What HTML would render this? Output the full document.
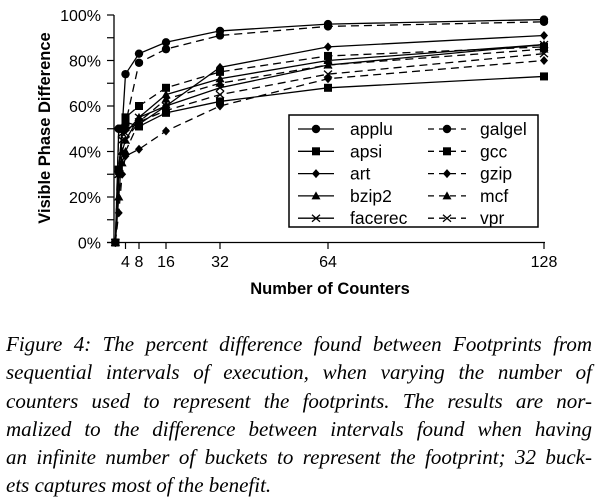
<!DOCTYPE html>
<html><head><meta charset="utf-8"><style>
body{margin:0;background:#fff;width:599px;height:498px;overflow:hidden}
svg{position:absolute;left:0;top:0}
.cap{position:absolute;left:6px;top:330px;width:586px;font-family:"Liberation Serif",serif;font-style:italic;font-size:21px;line-height:28.3px;color:#000}
.cap div{text-align:justify;text-align-last:justify;white-space:nowrap}
.cap div.last{text-align-last:left}
</style></head><body>
<svg id="chart" width="599" height="320" font-family="Liberation Sans, sans-serif"></svg>
<div class="cap">
<div>Figure 4: The percent difference found between Footprints from</div>
<div>sequential intervals of execution, when varying the number of</div>
<div>counters used to represent the footprints. The results are nor-</div>
<div>malized to the difference between intervals found when having</div>
<div>an infinite number of buckets to represent the footprint; 32 buck-</div>
<div class="last">ets captures most of the benefit.</div>
</div>
<script>
const xs=[1,2,3,4,8,16,32,64,128];
const names=["applu","apsi","art","bzip2","facerec","galgel","gcc","gzip","mcf","vpr"];
const applu=[0,50,50,74,83,88,93,96,98];
const apsi=[0,32,50,53,51,57,62,68,73];
const art=[0,30,50,50,52,60,77,86,91];
const bzip2=[0,20,40,45,55,65,72,80,87];
const facerec=[0,30,48,48,55,60,68,78,87];
const galgel=[0,50,50,52,79,85,91,95,97];
const gcc=[0,32,50,55,60,68,75,82,86];
const gzip=[0,13,30,38,41,49,60,72,80];
const mcf=[0,20,35,40,53,63,70,78,85];
const vpr=[0,30,45,45,53,58,65,74,83];
const series=[applu,apsi,art,bzip2,facerec,galgel,gcc,gzip,mcf,vpr];
const markers=["circle","square","diamond","triangle","x","circle","square","diamond","triangle","x"];
const yTicks=[0,20,40,60,80,100];
const xTicks=[4,8,16,32,64,128];
const svg=document.getElementById('chart');
const NS="http://www.w3.org/2000/svg";
const X=v=>112+v*3.375, Y=v=>242.5-v*2.275;
function mk(t,a,p){const e=document.createElementNS(NS,t);for(const k in a)e.setAttribute(k,a[k]);(p||svg).appendChild(e);return e;}
function marker(type,cx,cy,g){
 if(type=="circle")return mk('circle',{cx,cy,r:4.2,fill:'#000'},g);
 if(type=="square")return mk('rect',{x:cx-4,y:cy-4,width:8,height:8,fill:'#000'},g);
 if(type=="diamond")return mk('polygon',{points:`${cx},${cy-4.5} ${cx+4},${cy} ${cx},${cy+4.5} ${cx-4},${cy}`,fill:'#000'},g);
 if(type=="triangle")return mk('polygon',{points:`${cx},${cy-4.5} ${cx+4.5},${cy+3.5} ${cx-4.5},${cy+3.5}`,fill:'#000'},g);
 return mk('path',{d:`M${cx-4},${cy-3.5}L${cx+4},${cy+3.5}M${cx-4},${cy+3.5}L${cx+4},${cy-3.5}`,stroke:'#000','stroke-width':1.3},g);
}
const ax=mk('g',{});


mk('line',{x1:114,y1:15,x2:114,y2:242.5,stroke:'#000','stroke-width':1.3},ax);
mk('line',{x1:107,y1:242.5,x2:545,y2:242.5,stroke:'#000','stroke-width':1.3},ax);
for(let v=0;v<=100;v+=10){mk('line',{x1:107,x2:114,y1:Y(v),y2:Y(v),stroke:'#000','stroke-width':1.2},ax);}
yTicks.forEach(v=>{const t=mk('text',{x:101,y:Y(v)+6,'text-anchor':'end','font-size':16},ax);t.textContent=v+'%';

});
xTicks.forEach(v=>{mk('line',{x1:X(v),x2:X(v),y1:242.5,y2:249,stroke:'#000','stroke-width':1.2},ax);
const t=mk('text',{x:X(v),y:267,'text-anchor':'middle','font-size':16},ax);t.textContent=v;

});
const xt=mk('text',{x:330,y:294,'text-anchor':'middle','font-size':16.5,'font-weight':'bold'});xt.textContent='Number of Counters';


const yt=mk('text',{x:0,y:0,'text-anchor':'middle','font-size':16.5,'font-weight':'bold',transform:'translate(50,128) rotate(-90)'});yt.textContent='Visible Phase Difference';


series.forEach((s,i)=>{
 const g=mk('g',{});
 
 
 mk('polyline',{points:s.map((v,j)=>X(xs[j])+','+Y(v)).join(' '),fill:'none',stroke:'#000','stroke-width':1.3,'stroke-dasharray':i>=5?'8,5':'none'},g);
 s.forEach((v,j)=>marker(markers[i],X(xs[j]),Y(v),g));
});
const lg=mk('g',{});


mk('rect',{x:289,y:115,width:249,height:112,fill:'#fff',stroke:'#000','stroke-width':1.5},lg);
names.forEach((n,i)=>{
 const col=i>=5?1:0,row=i%5,y=129+row*22.3;
 const e=mk('g',{},lg);
 
 
 const x0=col?428:298,x1=col?466:334;
 mk('line',{x1:x0,x2:x1,y1:y,y2:y,stroke:'#000','stroke-width':1.3,'stroke-dasharray':col?'6,5':'none'},e);
 marker(markers[i],(x0+x1)/2,y,e);
 const t=mk('text',{x:col?480:350,y:y+6,'font-size':17.5},e);t.textContent=n;
});
</script>
</body></html>
